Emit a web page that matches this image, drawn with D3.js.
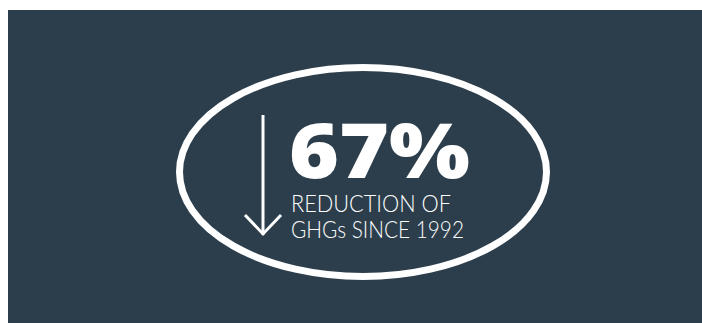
<!DOCTYPE html>
<html>
<head>
<meta charset="utf-8">
<script src="https://cdn.jsdelivr.net/npm/d3@7"></script>
<style>
	body { margin: 0; background: #ffffff; }
	svg { display: block; }
</style>
</head>
<body>
<div id="chart"></div>
<script>
var values = [ 67 ];
var valueSuffix = [ '%' ];
var labelLines = [ 'REDUCTION OF', 'GHGs SINCE 1992' ];

var width = 702,
	height = 323;

var colors = {
	bg: '#2c3e4c',
	fg: '#ffffff'
};

var svg = d3.select( '#chart' ).append( 'svg' )
	.attr( 'width', width )
	.attr( 'height', height );

// dark panel
svg.append( 'rect' )
	.attr( 'x', 8 )
	.attr( 'y', 10 )
	.attr( 'width', width - 8 )
	.attr( 'height', height - 10 )
	.style( 'fill', colors.bg );

// oval badge
svg.append( 'ellipse' )
	.attr( 'cx', 363 )
	.attr( 'cy', 172 )
	.attr( 'rx', 183.5 )
	.attr( 'ry', 104.5 )
	.style( 'fill', 'none' )
	.style( 'stroke', colors.fg )
	.style( 'stroke-width', 7 );

// down arrow, length scaled by the reduction
var arrowScale = d3.scaleLinear()
	.domain( [ 0, 100 ] )
	.range( [ 0, 179 ] );

var arrowTop = 115,
	arrowX = 263,
	arrowBottom = arrowTop + arrowScale( values[0] );

svg.append( 'line' )
	.attr( 'x1', arrowX )
	.attr( 'x2', arrowX )
	.attr( 'y1', arrowTop )
	.attr( 'y2', arrowBottom )
	.style( 'stroke', colors.fg )
	.style( 'stroke-width', 3 );

svg.append( 'path' )
	.attr( 'd', d3.line()( [ [ arrowX - 18, arrowBottom - 20 ], [ arrowX, arrowBottom - 1 ], [ arrowX + 18, arrowBottom - 20 ] ] ) )
	.style( 'fill', 'none' )
	.style( 'stroke', colors.fg )
	.style( 'stroke-width', 3 );

// big number
svg.selectAll( 'text.big' )
	.data( values )
	.enter()
	.append( 'text' )
	.classed( 'big', true )
	.attr( 'x', 289 )
	.attr( 'y', 178 )
	.attr( 'textLength', 181 )
	.attr( 'lengthAdjust', 'spacingAndGlyphs' )
	.style( 'font-family', '"Open Sans", Lato, sans-serif' )
	.style( 'font-weight', 800 )
	.style( 'font-size', '77px' )
	.style( 'fill', colors.fg )
	.text( function ( d, i ) { return d + valueSuffix[i]; } );

// label lines
var labelWidths = [ 160, 173 ];

svg.selectAll( 'text.label' )
	.data( labelLines )
	.enter()
	.append( 'text' )
	.classed( 'label', true )
	.attr( 'x', 291 )
	.attr( 'y', function ( d, i ) { return 212 + i * 25.5; } )
	.attr( 'textLength', function ( d, i ) { return labelWidths[i]; } )
	.attr( 'lengthAdjust', 'spacingAndGlyphs' )
	.style( 'font-family', 'Lato, "Open Sans", sans-serif' )
	.style( 'font-weight', 300 )
	.style( 'font-size', '24px' )
	.style( 'fill', colors.fg )
	.text( function ( d ) { return d; } );
</script>
</body>
</html>
